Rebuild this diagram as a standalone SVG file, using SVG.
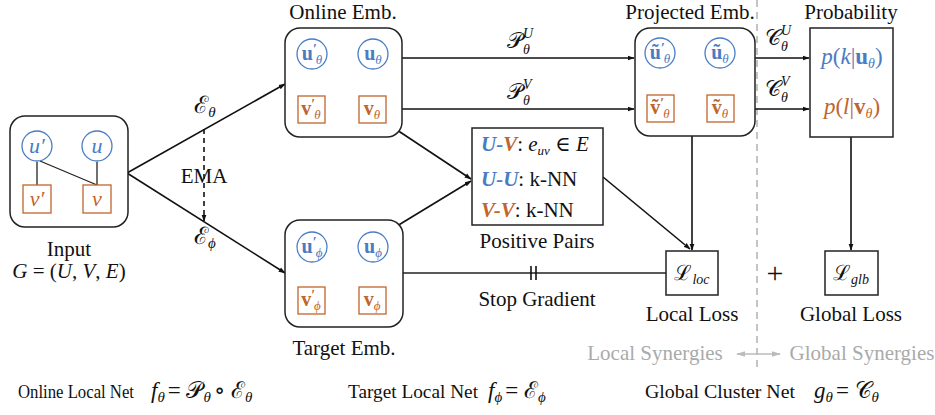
<svg xmlns="http://www.w3.org/2000/svg" width="935" height="415" viewBox="0 0 935 415">
  <defs>
    <marker id="arr" viewBox="0 0 10 10" refX="9" refY="5" markerWidth="7" markerHeight="7" orient="auto-start-reverse" markerUnits="userSpaceOnUse">
      <path d="M0,1.5 L10,5 L0,8.5 z" fill="#111"/>
    </marker>
    <marker id="arrg" viewBox="0 0 10 10" refX="9" refY="5" markerWidth="9" markerHeight="9" orient="auto-start-reverse" markerUnits="userSpaceOnUse">
      <path d="M0,2 L10,5 L0,8 z" fill="#bbb"/>
    </marker>
    <style>
      .box { fill: #fff; stroke: #222; stroke-width: 1.5; }
      .cir { fill: #fff; stroke: #4a7cc4; stroke-width: 1.3; }
      .sq { fill: #fff; stroke: #c0652d; stroke-width: 1.3; }
      .t { font-family: "Liberation Serif", "DejaVu Serif", serif; fill: #111; }
      .lbl { font-size: 21px; text-anchor: middle; }
      .m { font-style: italic; }
      .b { font-weight: bold; }
      .blue { fill: #4a7cc4; }
      .orange { fill: #c0652d; }
      .gray { fill: #aaa; }
      .edge { stroke: #111; stroke-width: 1.6; fill: none; }
      .thin { stroke: #222; stroke-width: 1.3; fill: none; }
    </style>
  </defs>

  <!-- separator between local and global parts -->
  <line x1="757" y1="0" x2="757" y2="368" stroke="#c4c4c4" stroke-width="2" stroke-dasharray="7 5"/>

  <g id="connectors">
    <line class="edge" x1="127" y1="173" x2="285" y2="84" marker-end="url(#arr)"/>
    <line class="edge" x1="127" y1="173" x2="285" y2="273" marker-end="url(#arr)"/>
    <line class="edge" x1="204" y1="129" x2="204" y2="221" stroke-dasharray="5 4" marker-end="url(#arr)"/>
    <line class="edge" x1="402" y1="58" x2="634" y2="58" marker-end="url(#arr)"/>
    <line class="edge" x1="402" y1="109" x2="634" y2="109" marker-end="url(#arr)"/>
    <line class="edge" x1="755" y1="58" x2="809" y2="58" marker-end="url(#arr)"/>
    <line class="edge" x1="755" y1="109" x2="809" y2="109" marker-end="url(#arr)"/>
    <line class="edge" x1="397" y1="130" x2="471" y2="179" marker-end="url(#arr)"/>
    <line class="edge" x1="397" y1="226" x2="471" y2="181" marker-end="url(#arr)"/>
    <line class="edge" x1="603" y1="177" x2="690" y2="249" marker-end="url(#arr)"/>
    <line class="edge" x1="692" y1="136" x2="692" y2="250" marker-end="url(#arr)"/>
    <line class="edge" x1="851" y1="137" x2="851" y2="250" marker-end="url(#arr)"/>
    <line class="thin" x1="403" y1="273" x2="666" y2="273"/>
    <line x1="531" y1="266" x2="531" y2="280" stroke="#111" stroke-width="1.6"/>
    <line x1="536" y1="266" x2="536" y2="280" stroke="#111" stroke-width="1.6"/>
    <line x1="737" y1="354" x2="780" y2="354" stroke="#bbb" stroke-width="1.6" marker-start="url(#arrg)" marker-end="url(#arrg)"/>
  </g>

  <!-- edge labels -->
  <g id="edge-labels" class="t">
    <text x="205" y="113" text-anchor="middle" font-size="24">ℰ<tspan class="m" font-size="15" dy="4">θ</tspan></text>
    <text x="205" y="244" text-anchor="middle" font-size="24">ℰ<tspan class="m" font-size="15" dy="4">ϕ</tspan></text>
    <text x="204" y="183" class="lbl" font-size="20">EMA</text>
    <text x="507" y="48" font-size="22">𝒫<tspan class="m" font-size="14" dy="6">θ</tspan><tspan class="m" font-size="14" dx="-7" dy="-16">U</tspan></text>
    <text x="507" y="99" font-size="22">𝒫<tspan class="m" font-size="14" dy="6">θ</tspan><tspan class="m" font-size="14" dx="-7" dy="-16">V</tspan></text>
    <text x="765" y="45" font-size="22">𝒞<tspan class="m" font-size="14" dy="6">θ</tspan><tspan class="m" font-size="14" dx="-7" dy="-16">U</tspan></text>
    <text x="765" y="96" font-size="22">𝒞<tspan class="m" font-size="14" dy="6">θ</tspan><tspan class="m" font-size="14" dx="-7" dy="-16">V</tspan></text>
    <text x="537" y="306" class="lbl">Stop Gradient</text>
  </g>

  <!-- input graph -->
  <g id="input" class="t">
    <rect class="box" x="10" y="116" width="118" height="111" rx="15"/>
    <line class="thin" x1="37" y1="162" x2="37" y2="185"/>
    <line class="thin" x1="97" y1="162" x2="97" y2="185"/>
    <line class="thin" x1="40" y1="161" x2="97" y2="185"/>
    <circle class="cir" cx="37" cy="146" r="15"/>
    <circle class="cir" cx="97" cy="146" r="15"/>
    <rect class="sq" x="23" y="185" width="28" height="28"/>
    <rect class="sq" x="83" y="185" width="28" height="28"/>
    <text x="37" y="153" text-anchor="middle" font-size="22" class="m blue">u′</text>
    <text x="97" y="153" text-anchor="middle" font-size="22" class="m blue">u</text>
    <text x="37" y="206" text-anchor="middle" font-size="22" class="m orange">v′</text>
    <text x="97" y="206" text-anchor="middle" font-size="22" class="m orange">v</text>
    <text x="69" y="256" class="lbl">Input</text>
    <text x="69" y="278" class="lbl m" font-size="20">G <tspan font-style="normal">= (</tspan>U<tspan font-style="normal">, </tspan>V<tspan font-style="normal">, </tspan>E<tspan font-style="normal">)</tspan></text>
  </g>

  <!-- online embeddings -->
  <g id="online-emb" class="t">
    <text x="343" y="19" class="lbl">Online Emb.</text>
    <rect class="box" x="285" y="28" width="117" height="109" rx="15"/>
    <circle class="cir" cx="312" cy="54" r="15"/>
    <circle class="cir" cx="373" cy="54" r="15"/>
    <rect class="sq" x="298" y="96" width="27" height="27"/>
    <rect class="sq" x="359" y="96" width="27" height="27"/>
    <text x="312" y="60" text-anchor="middle" font-size="20" class="b blue">u<tspan font-size="14" dy="-6">′</tspan><tspan class="m" font-weight="normal" font-size="13" dx="-1" dy="10">θ</tspan></text>
    <text x="373" y="60" text-anchor="middle" font-size="20" class="b blue">u<tspan class="m" font-weight="normal" font-size="13" dy="4">θ</tspan></text>
    <text x="311" y="115" text-anchor="middle" font-size="20" class="b orange">v<tspan font-size="14" dy="-6">′</tspan><tspan class="m" font-weight="normal" font-size="13" dx="-1" dy="10">θ</tspan></text>
    <text x="372" y="115" text-anchor="middle" font-size="20" class="b orange">v<tspan class="m" font-weight="normal" font-size="13" dy="4">θ</tspan></text>
  </g>

  <!-- target embeddings -->
  <g id="target-emb" class="t">
    <rect class="box" x="285" y="220" width="118" height="107" rx="15"/>
    <circle class="cir" cx="312" cy="247" r="15"/>
    <circle class="cir" cx="373" cy="247" r="15"/>
    <rect class="sq" x="298" y="287" width="27" height="27"/>
    <rect class="sq" x="359" y="287" width="27" height="27"/>
    <text x="312" y="253" text-anchor="middle" font-size="20" class="b blue">u<tspan font-size="14" dy="-6">′</tspan><tspan class="m" font-weight="normal" font-size="13" dx="-1" dy="10">ϕ</tspan></text>
    <text x="373" y="253" text-anchor="middle" font-size="20" class="b blue">u<tspan class="m" font-weight="normal" font-size="13" dy="4">ϕ</tspan></text>
    <text x="311" y="306" text-anchor="middle" font-size="20" class="b orange">v<tspan font-size="14" dy="-6">′</tspan><tspan class="m" font-weight="normal" font-size="13" dx="-1" dy="10">ϕ</tspan></text>
    <text x="372" y="306" text-anchor="middle" font-size="20" class="b orange">v<tspan class="m" font-weight="normal" font-size="13" dy="4">ϕ</tspan></text>
    <text x="344" y="355" class="lbl">Target Emb.</text>
  </g>

  <!-- positive pairs -->
  <g id="positive-pairs" class="t">
    <rect class="box" x="472" y="128" width="131" height="97"/>
    <text x="481" y="151" font-size="21"><tspan class="m b blue">U-</tspan><tspan class="m b orange">V</tspan>: <tspan class="m">e</tspan><tspan class="m" font-size="13" dy="4">uv</tspan><tspan dy="-4"> ∈ </tspan><tspan class="m">E</tspan></text>
    <text x="481" y="186" font-size="21"><tspan class="m b blue">U-U</tspan>: k-NN</text>
    <text x="481" y="217" font-size="21"><tspan class="m b orange">V-V</tspan>: k-NN</text>
    <text x="537" y="248" class="lbl">Positive Pairs</text>
  </g>

  <!-- projected embeddings -->
  <g id="projected-emb" class="t">
    <text x="690" y="19" class="lbl">Projected Emb.</text>
    <rect class="box" x="635" y="28" width="120" height="108" rx="15"/>
    <circle class="cir" cx="660" cy="53" r="15"/>
    <circle class="cir" cx="720" cy="53" r="15"/>
    <rect class="sq" x="647" y="95" width="27" height="27"/>
    <rect class="sq" x="707" y="95" width="27" height="27"/>
    <text x="660" y="59" text-anchor="middle" font-size="20" class="b blue">ũ<tspan font-size="14" dy="-6">′</tspan><tspan class="m" font-weight="normal" font-size="13" dx="-1" dy="10">θ</tspan></text>
    <text x="720" y="59" text-anchor="middle" font-size="20" class="b blue">ũ<tspan class="m" font-weight="normal" font-size="13" dy="4">θ</tspan></text>
    <text x="660" y="114" text-anchor="middle" font-size="20" class="b orange">ṽ<tspan font-size="14" dy="-6">′</tspan><tspan class="m" font-weight="normal" font-size="13" dx="-1" dy="10">θ</tspan></text>
    <text x="720" y="114" text-anchor="middle" font-size="20" class="b orange">ṽ<tspan class="m" font-weight="normal" font-size="13" dy="4">θ</tspan></text>
  </g>

  <!-- probability -->
  <g id="probability" class="t">
    <text x="851" y="19" class="lbl">Probability</text>
    <rect class="box" x="810" y="28" width="83" height="109"/>
    <text x="852" y="64" text-anchor="middle" font-size="23" class="blue"><tspan class="m">p</tspan>(<tspan class="m">k</tspan>|<tspan class="b">u</tspan><tspan class="m" font-size="14" dy="4">θ</tspan><tspan dy="-4">)</tspan></text>
    <text x="852" y="114" text-anchor="middle" font-size="23" class="orange"><tspan class="m">p</tspan>(<tspan class="m">l</tspan>|<tspan class="b">v</tspan><tspan class="m" font-size="14" dy="4">θ</tspan><tspan dy="-4">)</tspan></text>
  </g>

  <!-- local loss -->
  <g id="local-loss" class="t">
    <rect class="box" x="666" y="251" width="52" height="44"/>
    <text x="692" y="280" text-anchor="middle" font-size="21">ℒ<tspan class="m" font-size="14" dy="4">loc</tspan></text>
    <text x="692" y="321" class="lbl">Local Loss</text>
  </g>

  <text x="775" y="283" class="t" text-anchor="middle" font-size="30">+</text>

  <!-- global loss -->
  <g id="global-loss" class="t">
    <rect class="box" x="825" y="251" width="53" height="44"/>
    <text x="851" y="280" text-anchor="middle" font-size="21">ℒ<tspan class="m" font-size="14" dy="4">glb</tspan></text>
    <text x="851" y="321" class="lbl">Global Loss</text>
  </g>

  <!-- synergy captions -->
  <g id="synergies" class="t">
    <text x="655" y="360" class="lbl gray" font-size="20">Local Synergies</text>
    <text x="862" y="360" class="lbl gray" font-size="20">Global Synergies</text>
  </g>

  <!-- network definitions -->
  <g id="legend" class="t" font-size="19">
    <text x="18" y="398" textLength="116" lengthAdjust="spacingAndGlyphs">Online Local Net</text>
    <text x="151" y="398" font-size="23"><tspan class="m">f</tspan><tspan class="m" font-size="15" dy="4">θ</tspan><tspan dy="-4" dx="3">= 𝒫</tspan><tspan class="m" font-size="15" dy="4">θ</tspan><tspan dy="-4" dx="3">∘ ℰ</tspan><tspan class="m" font-size="15" dy="4">θ</tspan></text>
    <text x="348" y="398" textLength="130" lengthAdjust="spacingAndGlyphs">Target Local Net</text>
    <text x="488" y="398" font-size="23"><tspan class="m">f</tspan><tspan class="m" font-size="15" dy="4">ϕ</tspan><tspan dy="-4" dx="3">= ℰ</tspan><tspan class="m" font-size="15" dy="4">ϕ</tspan></text>
    <text x="645" y="398" textLength="150" lengthAdjust="spacingAndGlyphs">Global Cluster Net</text>
    <text x="814" y="398" font-size="23"><tspan class="m">g</tspan><tspan class="m" font-size="15" dy="4">θ</tspan><tspan dy="-4" dx="3">= 𝒞</tspan><tspan class="m" font-size="15" dy="4">θ</tspan></text>
  </g>
</svg>
